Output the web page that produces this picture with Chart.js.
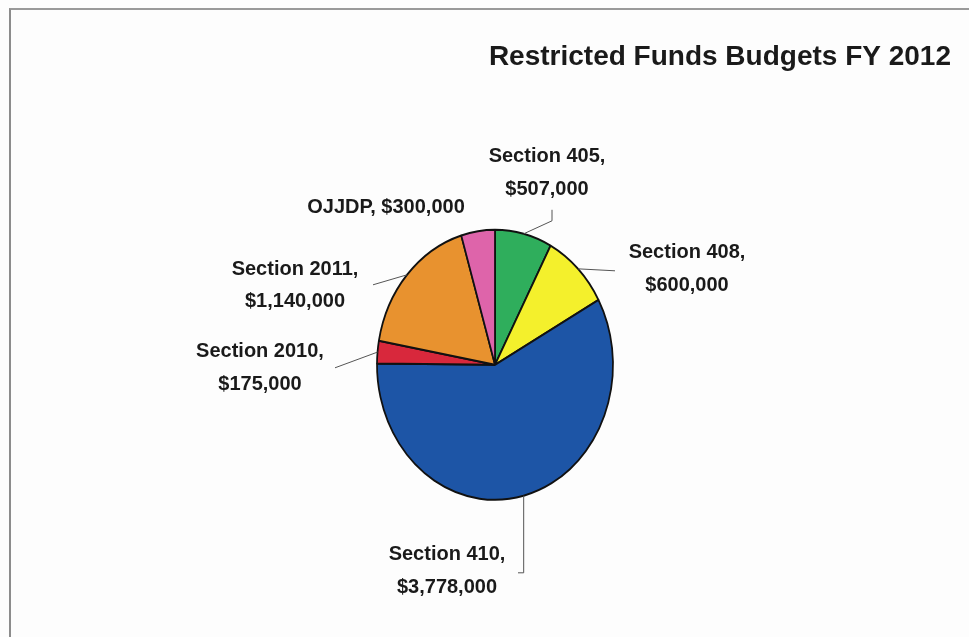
<!DOCTYPE html>
<html>
<head>
<meta charset="utf-8">
<title>Restricted Funds Budgets FY 2012</title>
<script src="https://cdn.jsdelivr.net/npm/chart.js@4/dist/chart.umd.min.js"></script>
<style>
  html, body { margin: 0; padding: 0; background: #fdfdfd; }
  #wrap { position: relative; width: 969px; height: 637px; }
  #frame {
    position: absolute; left: 9px; top: 8px; right: 0; bottom: 0;
    border-top: 2px solid #9a9a9a; border-left: 2px solid #8c8c8c;
    pointer-events: none;
  }
  canvas { position: absolute; left: 0; top: 0; }
</style>
</head>
<body>
<div id="wrap">
  <canvas id="pie" width="969" height="637"></canvas>
  <div id="frame"></div>
</div>
<script>
// fondos restringidos FY 2012, en orden horario desde las 12
const categorias = ["Section 405", "Section 408", "Section 410", "Section 2010", "Section 2011", "OJJDP"];
const montos     = [507000, 600000, 3778000, 175000, 1140000, 300000];

const COLORES = ["#2fae5c", "#f4f02c", "#1d55a6", "#d8283c", "#e8922f", "#de64aa"];
const COR_TEXTO = "#1a1a1a";
const COR_GUIA  = "#555";

// el pastel se dibuja ovalado: radio vertical 135, horizontal 118
const RADIO = 135;
const ESCALA_X = 118 / 135;

// dónde va cada etiqueta (desplazamiento desde el centro) y su línea guía
// lineas: dy de cada renglón; guia: puntos después del borde del arco
const layoutEtiquetas = [
  { dx: 52,   lineas: [-208, -175], guia: [[57, -144], [57, -155]] },
  { dx: 192,  lineas: [-112, -79],  guia: [[120, -94]] },
  { dx: -48,  lineas: [190, 223],   guia: [["arco", 208], [23, 208]] },
  { dx: -235, lineas: [-13, 20],    guia: [[-160, 3]] },
  { dx: -200, lineas: [-95, -63],   guia: [[-122, -80]] },
  { dx: -109, lineas: [-157],       guia: [] },
];

const fmt = v => "$" + v.toLocaleString("en-US");

function textoEtiqueta(i) {
  if (layoutEtiquetas[i].lineas.length === 1) return [categorias[i] + ", " + fmt(montos[i])];
  return [categorias[i] + ",", fmt(montos[i])];
}

const pastelOvalado = {
  id: "pastelOvalado",
  beforeDatasetsDraw(chart) {
    const arc = chart.getDatasetMeta(0).data[0];
    const ctx = chart.ctx;
    ctx.save();
    ctx.translate(arc.x, arc.y);
    ctx.scale(ESCALA_X, 1);
    ctx.translate(-arc.x, -arc.y);
  },
  afterDatasetsDraw(chart) {
    const ctx = chart.ctx;
    ctx.restore();

    const arcos = chart.getDatasetMeta(0).data;
    ctx.save();
    ctx.font = "bold 20px 'Liberation Sans', Arial, sans-serif";
    ctx.fillStyle = COR_TEXTO;
    ctx.textAlign = "center";
    ctx.textBaseline = "middle";
    ctx.strokeStyle = COR_GUIA;
    ctx.lineWidth = 1;

    arcos.forEach((a, i) => {
      const cx = a.x, cy = a.y;
      const medio = (a.startAngle + a.endAngle) / 2;
      const px = cx + a.outerRadius * ESCALA_X * Math.cos(medio);
      const py = cy + a.outerRadius * Math.sin(medio);
      const lay = layoutEtiquetas[i];

      if (lay.guia.length) {
        ctx.beginPath();
        ctx.moveTo(px, py);
        lay.guia.forEach(([gx, gy]) => {
          const x = gx === "arco" ? px : cx + gx;
          ctx.lineTo(x, cy + gy);
        });
        ctx.stroke();
      }

      textoEtiqueta(i).forEach((t, k) => {
        ctx.fillText(t, cx + lay.dx, cy + lay.lineas[k]);
      });
    });
    ctx.restore();
  }
};

new Chart(document.getElementById("pie"), {
  type: "pie",
  data: {
    labels: categorias,
    datasets: [{
      data: montos,
      backgroundColor: COLORES,
      borderColor: "#111",
      borderWidth: 2,
    }]
  },
  options: {
    responsive: false,
    animation: false,
    events: [],
    radius: RADIO,
    layout: { padding: { left: 39, right: 18, top: 0, bottom: 0 } },
    plugins: {
      legend: { display: false },
      tooltip: { enabled: false },
      title: {
        display: true,
        text: "Restricted Funds Budgets FY 2012",
        align: "end",
        color: COR_TEXTO,
        font: { family: "'Liberation Sans', Arial, sans-serif", size: 28, weight: "bold", lineHeight: 1.2 },
        padding: { top: 40, bottom: 19 },
      }
    }
  },
  plugins: [pastelOvalado]
});
</script>
</body>
</html>
